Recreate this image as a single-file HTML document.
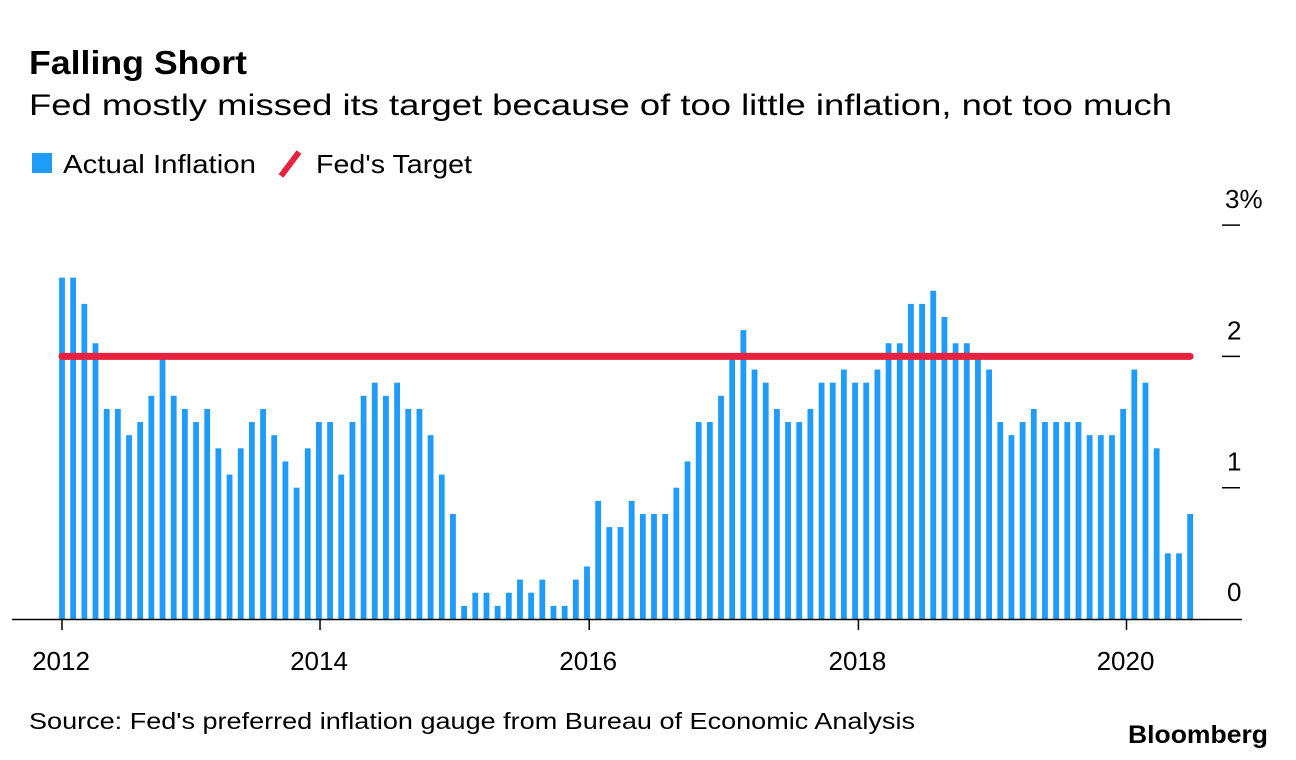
<!DOCTYPE html>
<html><head><meta charset="utf-8"><style>
html,body{margin:0;padding:0;background:#fff;}
svg{display:block;font-family:"Liberation Sans",Arial,sans-serif;}
</style></head><body>
<svg id="chart" width="1296" height="760" viewBox="0 0 1296 760">
<text x="29" y="74" font-size="33" font-weight="bold" fill="#000" textLength="218" lengthAdjust="spacingAndGlyphs">Falling Short</text>
<text x="29" y="115" font-size="30" fill="#000" textLength="1143" lengthAdjust="spacingAndGlyphs">Fed mostly missed its target because of too little inflation, not too much</text>
<g>
<rect x="32" y="153" width="20" height="20" fill="#1e9cf7"/>
<text x="63" y="173" font-size="26" fill="#000" textLength="193" lengthAdjust="spacingAndGlyphs">Actual Inflation</text>
<line x1="281" y1="176" x2="299" y2="152" stroke="#e8213f" stroke-width="6"/>
<text x="316" y="173" font-size="26" fill="#000" textLength="156" lengthAdjust="spacingAndGlyphs">Fed's Target</text>
</g>
<g id="bars"></g>
<g id="axes"></g>
<text x="29" y="729" font-size="23" fill="#000" textLength="886" lengthAdjust="spacingAndGlyphs">Source: Fed's preferred inflation gauge from Bureau of Economic Analysis</text>
<text x="1268" y="743" font-size="25" font-weight="bold" fill="#000" text-anchor="end" textLength="140" lengthAdjust="spacingAndGlyphs">Bloomberg</text>
</svg>
<script>
const values = [2.6,2.6,2.4,2.1,1.6,1.6,1.4,1.5,1.7,2.0,1.7,1.6,
1.5,1.6,1.3,1.1,1.3,1.5,1.6,1.4,1.2,1.0,1.3,1.5,
1.5,1.1,1.5,1.7,1.8,1.7,1.8,1.6,1.6,1.4,1.1,0.8,
0.1,0.2,0.2,0.1,0.2,0.3,0.2,0.3,0.1,0.1,0.3,0.4,
0.9,0.7,0.7,0.9,0.8,0.8,0.8,1.0,1.2,1.5,1.5,1.7,
2.0,2.2,1.9,1.8,1.6,1.5,1.5,1.6,1.8,1.8,1.9,1.8,
1.8,1.9,2.1,2.1,2.4,2.4,2.5,2.3,2.1,2.1,2.0,1.9,
1.5,1.4,1.5,1.6,1.5,1.5,1.5,1.5,1.4,1.4,1.4,1.6,
1.9,1.8,1.3,0.5,0.5,0.8];
const target = 2;
const xTickLabels = ["2012","2014","2016","2018","2020"];
const xTickIndex = [0,23.1,47.2,71.3,95.3];
const yTicks = [0,1,2,3];
const yTickLabels = ["0","1","2","3%"];

const NS="http://www.w3.org/2000/svg";
const x = i => 62 + i*11.17;
const y = v => 619 - v*131.3;
const bars=document.getElementById('bars'), axes=document.getElementById('axes');
function mk(tag,attrs,parent){const e=document.createElementNS(NS,tag);for(const k in attrs)e.setAttribute(k,attrs[k]);parent.appendChild(e);return e;}
values.forEach((v,i)=>{
  const r=mk('rect',{x:x(i)-2.9,y:y(v),width:5.8,height:619-y(v),fill:'#1e9cf7'},bars);
  
  
});
const tl=mk('line',{x1:x(0),x2:x(values.length-1),y1:y(target),y2:y(target),stroke:'#e8213f','stroke-width':7,'stroke-linecap':'round'},bars);


const ax=mk('line',{x1:12,x2:1242,y1:619.5,y2:619.5,stroke:'#000','stroke-width':1.5},axes);


xTickIndex.forEach((t,k)=>{
  const tk=mk('line',{x1:x(t),x2:x(t),y1:619,y2:630,stroke:'#000','stroke-width':1.5},axes);
  
  
  const lb=mk('text',{x:x(t)-1,y:670,'font-size':26,'text-anchor':'middle',fill:'#000'},axes);
  lb.textContent=xTickLabels[k];
  
  
});
yTicks.forEach((v,k)=>{
  if(v>0){
    const tk=mk('line',{x1:1222,x2:1240,y1:y(v),y2:y(v),stroke:'#000','stroke-width':1.5},axes);
    
    
  }
  const lb=mk('text',{x:v===3?1225:1227,y:v===0?y(v)-18:y(v)-17,'font-size':26,fill:'#000'},axes);
  lb.textContent=yTickLabels[k];
  
  
});
</script>
</body></html>
